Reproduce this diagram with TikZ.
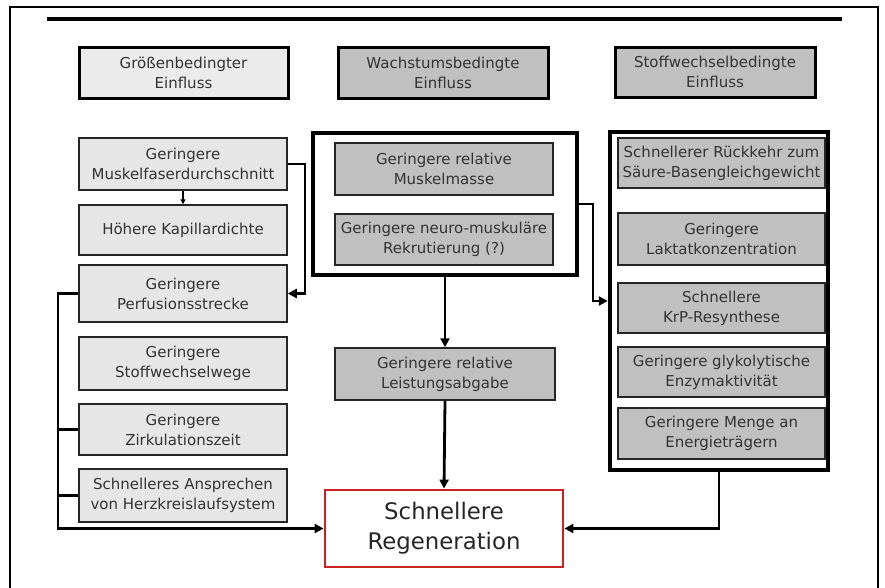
\documentclass[tikz,border=0pt]{standalone}
\usepackage{fontspec}
\setmainfont{DejaVu Sans}
\usetikzlibrary{arrows.meta}
\definecolor{lgray}{HTML}{E6E6E6}
\definecolor{hgray}{HTML}{EBEBEB}
\definecolor{mgray}{HTML}{C0C0C0}
\definecolor{txt}{HTML}{333333}
\definecolor{rred}{HTML}{CC2222}
\begin{document}
\begin{tikzpicture}[x=1pt,y=-1pt,
  basebox/.style={rectangle, inner sep=0pt, align=center, text=txt,
    font=\fontsize{15}{20}\selectfont},
  leftbox/.style={basebox, draw=black!85, line width=1.5pt, fill=lgray},
  graybox/.style={basebox, draw=black!85, line width=1.5pt, fill=mgray},
  headbox/.style={basebox, draw=black, line width=3pt},
  contbox/.style={rectangle, inner sep=0pt, draw=black, line width=4.5pt, fill=white},
  conn/.style={draw=black, line width=2.8pt, -{Triangle[length=9pt,width=9pt]}},
  connline/.style={draw=black, line width=2.8pt},
  thinarrow/.style={draw=black, line width=1.2pt, -{Triangle[length=5pt,width=5pt]}}
]
\useasboundingbox (0,0) rectangle (885,587);
\fill[white] (0,0) rectangle (885,587);
% outer frame and top rule
\draw[line width=2.5pt] (10,600) -- (10,7) -- (878,7) -- (878,600);
\draw[line width=3.5pt] (47,19) -- (842,19);

% headers
\node[headbox, draw=black, fill=hgray, minimum width=209pt, minimum height=51pt] (h1) at (183.5,72.5) {Größenbedingter\\Einfluss};
\node[headbox, draw=black, fill=mgray, minimum width=210pt, minimum height=51pt] (h2) at (443,72.5) {Wachstumsbedingte\\Einfluss};
\node[headbox, draw=black, fill=mgray, minimum width=200pt, minimum height=50pt] (h3) at (715,72) {Stoffwechselbedingte\\Einfluss};

% left column
\node[leftbox, minimum width=208pt, minimum height=52pt] (l1) at (183,164) {Geringere\\Muskelfaserdurchschnitt};
\node[leftbox, minimum width=208pt, minimum height=50pt] (l2) at (183,230) {Höhere Kapillardichte};
\node[leftbox, minimum width=208pt, minimum height=57pt] (l3) at (183,293.5) {Geringere\\Perfusionsstrecke};
\node[leftbox, minimum width=208pt, minimum height=53pt] (l4) at (183,363.5) {Geringere\\Stoffwechselwege};
\node[leftbox, minimum width=208pt, minimum height=51pt] (l5) at (183,429.5) {Geringere\\Zirkulationszeit};
\node[leftbox, minimum width=208pt, minimum height=53pt] (l6) at (183,495.5) {Schnelleres Ansprechen\\von Herzkreislaufsystem};

% middle column
\node[contbox, minimum width=264pt, minimum height=142pt] (mc) at (445,204) {};
\node[graybox, minimum width=218pt, minimum height=52pt] (m1) at (444,169) {Geringere relative\\Muskelmasse};
\node[graybox, minimum width=218pt, minimum height=51pt] (m2) at (444,239.5) {Geringere neuro-muskuläre\\Rekrutierung (?)};
\node[graybox, minimum width=220pt, minimum height=52pt] (m3) at (445,374) {Geringere relative\\Leistungsabgabe};
\node[rectangle, inner sep=0pt, draw=rred, line width=2.8pt, fill=white, align=center,
  text=black!85, font=\fontsize{22.8}{30}\selectfont,
  minimum width=238pt, minimum height=77pt] (regen) at (444,528.5) {Schnellere\\Regeneration};

% right column
\node[contbox, minimum width=218pt, minimum height=338pt] (rc) at (719,301) {};
\node[graybox, minimum width=207pt, minimum height=50pt] (r1) at (721.5,163) {Schnellerer Rückkehr zum\\Säure-Basengleichgewicht};
\node[graybox, minimum width=207pt, minimum height=52pt] (r2) at (721.5,239) {Geringere\\Laktatkonzentration};
\node[graybox, minimum width=207pt, minimum height=50pt] (r3) at (721.5,308) {Schnellere\\KrP-Resynthese};
\node[graybox, minimum width=207pt, minimum height=50pt] (r4) at (721.5,372) {Geringere glykolytische\\Enzymaktivität};
\node[graybox, minimum width=207pt, minimum height=51pt] (r5) at (721.5,433.5) {Geringere Menge an\\Energieträgern};

% connector helper coordinates
\coordinate (jl) at (305,0);
\coordinate (bx) at (58,0);
\coordinate (jm) at (593,0);

% connectors
\draw[thinarrow] (l1.south) -- (l2.north);
\draw[conn] (l1.east) -| (jl |- l3.east) -- (l3.east);
\draw[conn] (l3.west) -| (bx |- regen.west) -- (regen.west);
\draw[connline] (l5.west) -- (bx |- l5.west);
\draw[connline] (l6.west) -- (bx |- l6.west);
\draw[conn] (mc.south) -- (m3.north);
\draw[conn] (m3.south) -- (regen.north);
\draw[conn] (mc.east) -| (jm |- rc.west) -- (rc.west);
\draw[conn] (rc.south) |- (regen.east);
\end{tikzpicture}
\end{document}
